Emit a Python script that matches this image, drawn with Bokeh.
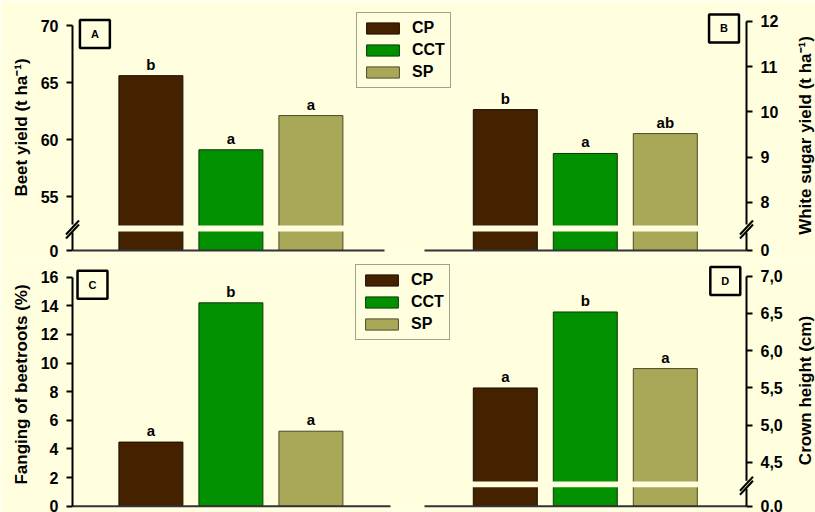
import math
from bokeh.plotting import figure
from bokeh.models import (Range1d, LinearAxis, FixedTicker, Label, Legend, LegendItem,
                          ColumnDataSource)
from bokeh.layouts import column
from bokeh.core.properties import value
from bokeh.embed import file_html
from bokeh.resources import INLINE

# ---------------- data ----------------
treatments = ["CP", "CCT", "SP"]
colors = ["#442200", "#009000", "#A9A858"]
outlines = ["#1a0d00", "#0a3a0a", "#4a4a2a"]

beet_yield = [65.6, 59.1, 62.1]          # panel A (t ha-1)
beet_letters = ["b", "a", "a"]
sugar_yield = [10.05, 9.08, 9.52]        # panel B (t ha-1)
sugar_letters = ["b", "a", "ab"]
fanging = [4.48, 14.21, 5.24]            # panel C (%)
fanging_letters = ["a", "b", "a"]
crown = [5.50, 6.52, 5.76]               # panel D (cm)
crown_letters = ["a", "b", "a"]

a_ticks = [55, 60, 65, 70]
b_ticks = [8, 9, 10, 11, 12]
c_ticks = [0, 2, 4, 6, 8, 10, 12, 14, 16]
d_ticks = [4.5, 5.0, 5.5, 6.0, 6.5, 7.0]
d_tick_labels = ["4,5", "5,0", "5,5", "6,0", "6,5", "7,0"]

label_a = "Beet yield (t ha\u207b\u00b9)"
label_b = "White sugar yield (t ha\u207b\u00b9)"
label_c = "Fanging of beetroots (%)"
label_d = "Crown height (cm)"

# ---------------- style ----------------
BG = "#FFFFE0"
FONT = "Liberation Sans"
TICK_FS = "16px"
LABEL_FS = "17px"
X0, X1 = 0.02, 8.445          # x range (80 px per unit)
PXX = 80.0
LEFT_POS = [1, 2, 3]
RIGHT_POS = [5.43, 6.43, 7.43]
BAR_W = 0.8
FIG_W = 815

# y ranges (start, end) and the value where the axis "0" sits (broken axes)
A_RANGE, A_ZERO, A_PX = (50.088, 72.018), 50.263, 11.4
B_RANGE, B_ZERO, B_PX = (6.889, 12.42), 6.934, 45.2
C_RANGE, C_PX = (-0.16, 17.167), 14.31
D_RANGE, D_ZERO, D_PX = (3.882, 7.211), 3.913, 74.4


def style_axis(ax):
    ax.axis_line_width = 2
    ax.axis_line_color = "black"
    ax.major_tick_line_width = 2
    ax.major_tick_line_color = "black"
    ax.major_tick_out = 6
    ax.major_tick_in = 0
    ax.minor_tick_line_color = None
    ax.major_label_text_font = FONT
    ax.major_label_text_font_style = "bold"
    ax.major_label_text_font_size = TICK_FS
    ax.major_label_text_color = "black"
    ax.major_label_standoff = 8
    ax.axis_label_text_font = FONT
    ax.axis_label_text_font_style = "bold"
    ax.axis_label_text_font_size = LABEL_FS
    ax.axis_label_text_color = "black"
    ax.axis_label_standoff = 7


def make_fig(height, top, bottom):
    p = figure(width=FIG_W, height=height, output_backend="svg", toolbar_location=None,
               x_range=Range1d(X0, X1), min_border_left=72,
               min_border_right=FIG_W - 72 - 674,
               min_border_top=top, min_border_bottom=bottom)
    p.background_fill_color = BG
    p.border_fill_color = BG
    p.outline_line_color = None
    p.grid.visible = False
    p.xaxis.visible = False
    p.yaxis.visible = False
    return p


def bars(p, xs, vals, zero, letters, rng=None):
    kw = {} if rng is None else {"y_range_name": rng}
    src = ColumnDataSource(dict(x=xs, top=vals, bottom=[zero] * 3, color=colors,
                                line=outlines, treat=treatments, let=letters))
    r = p.vbar(x="x", top="top", bottom="bottom", width=BAR_W, fill_color="color",
               line_color="line", line_width=1, source=src, **kw)
    p.text(x="x", y="top", text="let", source=src, text_align="center",
           text_baseline="bottom", y_offset=-3, text_font=value(FONT),
           text_font_style="bold", text_font_size="15px", text_color="black", **kw)
    return r


def break_marks(p, xv, yv, px_per_unit, rng=None):
    kw = {} if rng is None else {"y_range_name": rng}
    dx = 6.5 / PXX
    dy = 1.0 / px_per_unit
    # mask the axis line between the slashes
    m = p.segment(x0=[xv], y0=[yv - 4 * dy], x1=[xv], y1=[yv + 4 * dy],
                  line_color=BG, line_width=4, **kw)
    m.level = "overlay"
    s = p.segment(x0=[xv - dx, xv - dx], y0=[yv - 6 * dy, yv - 10 * dy],
                  x1=[xv + dx, xv + dx], y1=[yv + 8 * dy, yv + 4 * dy],
                  line_color="black", line_width=2, **kw)
    s.level = "overlay"


def baseline(p, x0, x1, y, rng=None):
    kw = {} if rng is None else {"y_range_name": rng}
    p.segment(x0=[x0], y0=[y], x1=[x1], y1=[y], line_color="#333333", line_width=2, **kw)


def panel_box(p, x, y, txt):
    p.add_layout(Label(x=x, y=y, text=txt, text_align="center", text_baseline="middle",
                       text_font=FONT, text_font_style="bold", text_font_size="11px",
                       text_color="black", background_fill_color="white",
                       background_fill_alpha=0.0, border_line_color="black",
                       border_line_width=2.5,
                       padding=dict(left=11, right=11, top=8, bottom=8)))


def legend(p, renderer, loc):
    items = [LegendItem(label=t, renderers=[renderer], index=i) for i, t in enumerate(treatments)]
    lg = Legend(items=items, location=loc, orientation="vertical",
                glyph_width=41, glyph_height=14, label_standoff=9, spacing=2,
                padding=5, margin=0, label_height=20,
                label_text_font=FONT, label_text_font_style="bold",
                label_text_font_size="16px", label_text_color="black",
                border_line_color="#444444", border_line_width=1,
                background_fill_color=BG, background_fill_alpha=1.0)
    p.add_layout(lg)


def right_label(p, txt, yc):
    # right-hand axis title, reading bottom-to-top like the left one
    r = p.text(x=[X1 + 59 / PXX], y=[yc], text=[txt], angle=math.pi / 2,
               text_align="center", text_baseline="middle", text_font=value(FONT),
               text_font_style="bold", text_font_size=LABEL_FS, text_color="black")
    r.level = "overlay"


# ================= top row: A (left axis) and B (right axis) =================
top = make_fig(260, 2, 8)
top.y_range = Range1d(*A_RANGE)
top.extra_y_ranges = {"B": Range1d(*B_RANGE)}

ax_a = LinearAxis(ticker=FixedTicker(ticks=[A_ZERO] + a_ticks),
                  major_label_overrides={A_ZERO: "0"},
                  axis_label=label_a, bounds=(A_ZERO - 0.001, 70))
style_axis(ax_a)
top.add_layout(ax_a, "left")
ax_b = LinearAxis(y_range_name="B", ticker=FixedTicker(ticks=[B_ZERO] + b_ticks),
                  major_label_overrides={B_ZERO: "0"}, bounds=(B_ZERO - 0.001, 12))
style_axis(ax_b)
top.add_layout(ax_b, "right")
right_label(top, label_b, 70 - (135 - 25) / A_PX)

ra = bars(top, LEFT_POS, beet_yield, A_ZERO, beet_letters)
bars(top, RIGHT_POS, sugar_yield, B_ZERO, sugar_letters, "B")
baseline(top, X0, 3.92, A_ZERO)
baseline(top, 4.42, X1, A_ZERO)
# white break band across the bars
top.quad(left=[X0], right=[X1], bottom=[51.93], top=[52.45], fill_color=BG, line_color=None)
break_marks(top, X0, 70 - (228 - 25) / A_PX, A_PX)
break_marks(top, X1, 70 - (228 - 25) / A_PX, A_PX)
panel_box(top, 0.30, 69.25, "A")
panel_box(top, 8.164, 69.74, "B")
legend(top, ra, (284, 164))

# ================= bottom row: C (left axis) and D (right axis) =================
bot = make_fig(252, 0, 4)
bot.y_range = Range1d(*C_RANGE)
bot.extra_y_ranges = {"D": Range1d(*D_RANGE)}

ax_c = LinearAxis(ticker=FixedTicker(ticks=c_ticks), axis_label=label_c, bounds=(0, 16))
style_axis(ax_c)
bot.add_layout(ax_c, "left")
d_over = {D_ZERO: "0,0"}
d_over.update({t: l for t, l in zip(d_ticks, d_tick_labels)})
ax_d = LinearAxis(y_range_name="D", ticker=FixedTicker(ticks=[D_ZERO] + d_ticks),
                  major_label_overrides=d_over, bounds=(D_ZERO - 0.001, 7.0))
style_axis(ax_d)
bot.add_layout(ax_d, "right")
right_label(bot, label_d, 16 - (390 - 276.7) / C_PX)

rc = bars(bot, LEFT_POS, fanging, 0, fanging_letters)
bars(bot, RIGHT_POS, crown, D_ZERO, crown_letters, "D")
baseline(bot, X0, 3.995, 0)
baseline(bot, 4.42, X1, 0)
bot.quad(left=[4.42], right=[X1], bottom=[4.168], top=[4.245], fill_color=BG,
         line_color=None, y_range_name="D")
break_marks(bot, X1, 7 - (484 - 275.7) / D_PX, D_PX, "D")
panel_box(bot, 0.27, 15.47, "C")
panel_box(bot, 8.18, 15.73, "D")
legend(bot, rc, (283, 168))

layout = column(top, bot, spacing=0)
open("out.html", "w").write(file_html(layout, INLINE))
